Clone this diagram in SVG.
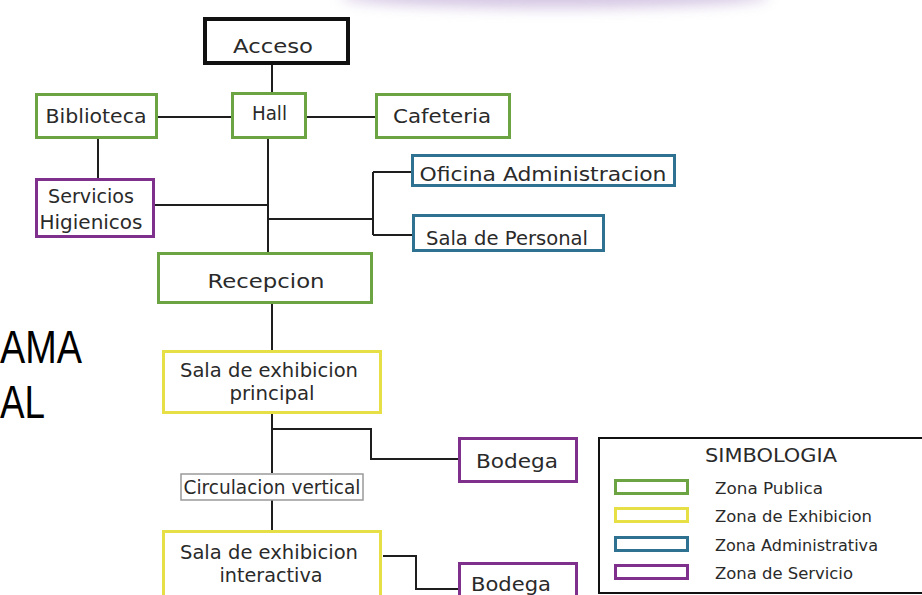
<svg xmlns="http://www.w3.org/2000/svg" width="922" height="595" viewBox="0 0 922 595">
<defs>
<filter id="blur" x="-20%" y="-200%" width="140%" height="500%"><feGaussianBlur stdDeviation="7"/></filter>
<style>
.t{font-family:"DejaVu Sans","Liberation Sans",sans-serif;font-size:20px;fill:#2a2a2a;text-anchor:middle}
.lg{font-family:"DejaVu Sans","Liberation Sans",sans-serif;font-size:15px;fill:#2a2a2a}
.box{fill:#fff;stroke-width:3}
.pub{stroke:#6ca444}
.exh{stroke:#e6df45}
.adm{stroke:#2f7190}
.ser{stroke:#7f2f8c}
.c{fill:none;stroke:#1e1e1e;stroke-width:2}
.big{font-family:"Liberation Sans",sans-serif;font-size:46px;fill:#000}
</style>
</defs>
<rect width="922" height="595" fill="#fff"/>
<ellipse cx="555" cy="-4" rx="215" ry="12" fill="#b197cc" opacity="0.55" filter="url(#blur)"/>
<g id="title">
<text class="big" x="0" y="363" textLength="82" lengthAdjust="spacingAndGlyphs">AMA</text>
<text class="big" x="0" y="418" textLength="45" lengthAdjust="spacingAndGlyphs">AL</text>
</g>
<g id="connectors">
<path class="c" d="M272 65V93"/>
<path class="c" d="M158 117H232"/>
<path class="c" d="M306 117H375"/>
<path class="c" d="M98 139V178"/>
<path class="c" d="M268 139V252"/>
<path class="c" d="M155 205H268"/>
<path class="c" d="M268 219H373M373 172V235M373 172H411M373 235H412"/>
<path class="c" d="M272 304V350"/>
<path class="c" d="M272 414V473M272 429H371V459H458"/>
<path class="c" d="M272 500V530"/>
<path class="c" d="M383 556H416V589H458"/>
</g>
<g id="acceso">
<rect x="205" y="19" width="143" height="44" fill="#fff" stroke="#111" stroke-width="4"/>
<text class="t" x="273" y="53" font-size="21" textLength="80" lengthAdjust="spacingAndGlyphs">Acceso</text>
</g>
<g id="hall">
<rect class="box pub" x="232.5" y="93.5" width="73" height="44"/>
<text class="t" x="269.5" y="120" font-size="21" textLength="35" lengthAdjust="spacingAndGlyphs">Hall</text>
</g>
<g id="biblioteca">
<rect class="box pub" x="36.5" y="94.5" width="120" height="43"/>
<text class="t" x="96" y="123" textLength="101" lengthAdjust="spacingAndGlyphs">Biblioteca</text>
</g>
<g id="cafeteria">
<rect class="box pub" x="376.5" y="94.5" width="133" height="43"/>
<text class="t" x="442" y="123" textLength="98" lengthAdjust="spacingAndGlyphs">Cafeteria</text>
</g>
<g id="servicios">
<rect class="box ser" x="36.5" y="179.5" width="117" height="57"/>
<text class="t" x="91" y="203" textLength="86" lengthAdjust="spacingAndGlyphs">Servicios</text>
<text class="t" x="91" y="229" textLength="103" lengthAdjust="spacingAndGlyphs">Higienicos</text>
</g>
<g id="oficina">
<rect class="box adm" x="412.5" y="155.5" width="262" height="30"/>
<text class="t" x="543" y="181" textLength="247" lengthAdjust="spacingAndGlyphs">Oficina Administracion</text>
</g>
<g id="personal">
<rect class="box adm" x="413.5" y="215.5" width="190" height="35"/>
<text class="t" x="507" y="245" textLength="162" lengthAdjust="spacingAndGlyphs">Sala de Personal</text>
</g>
<g id="recepcion">
<rect class="box pub" x="158.5" y="253.5" width="213" height="49"/>
<text class="t" x="266" y="288" font-size="22" textLength="117" lengthAdjust="spacingAndGlyphs">Recepcion</text>
</g>
<g id="sala-principal">
<rect class="box exh" x="163.5" y="351.5" width="217" height="61"/>
<text class="t" x="269" y="377" textLength="178" lengthAdjust="spacingAndGlyphs">Sala de exhibicion</text>
<text class="t" x="272" y="400" textLength="85" lengthAdjust="spacingAndGlyphs">principal</text>
</g>
<g id="bodega1">
<rect class="box ser" x="459.5" y="438.5" width="117" height="43"/>
<text class="t" x="517" y="468" textLength="82" lengthAdjust="spacingAndGlyphs">Bodega</text>
</g>
<g id="circulacion">
<rect x="181" y="474" width="182" height="26" fill="#fff" stroke="#9a9a9a" stroke-width="1.5"/>
<text class="t" x="272" y="494" font-size="17" textLength="177" lengthAdjust="spacingAndGlyphs">Circulacion vertical</text>
</g>
<g id="sala-interactiva">
<rect class="box exh" x="163.5" y="531.5" width="217" height="70"/>
<text class="t" x="269" y="559" textLength="178" lengthAdjust="spacingAndGlyphs">Sala de exhibicion</text>
<text class="t" x="271" y="582" textLength="103" lengthAdjust="spacingAndGlyphs">interactiva</text>
</g>
<g id="bodega2">
<rect class="box ser" x="459.5" y="563.5" width="117" height="40"/>
<text class="t" x="511" y="591" textLength="80" lengthAdjust="spacingAndGlyphs">Bodega</text>
</g>
<g id="legend">
<rect x="599" y="438" width="330" height="155" fill="#fff" stroke="#111" stroke-width="2"/>
<text class="t" x="771" y="462" font-size="18" textLength="132" lengthAdjust="spacingAndGlyphs">SIMBOLOGIA</text>
<rect class="box pub" x="615.5" y="480.5" width="72" height="13"/>
<rect class="box exh" x="615.5" y="508.5" width="72" height="13"/>
<rect class="box adm" x="615.5" y="537.5" width="72" height="13"/>
<rect class="box ser" x="615.5" y="565.5" width="72" height="13"/>
<text class="lg" x="715" y="494" textLength="108" lengthAdjust="spacingAndGlyphs">Zona Publica</text>
<text class="lg" x="715" y="522" textLength="157" lengthAdjust="spacingAndGlyphs">Zona de Exhibicion</text>
<text class="lg" x="715" y="551" textLength="163" lengthAdjust="spacingAndGlyphs">Zona Administrativa</text>
<text class="lg" x="715" y="579" textLength="138" lengthAdjust="spacingAndGlyphs">Zona de Servicio</text>
</g>
</svg>
